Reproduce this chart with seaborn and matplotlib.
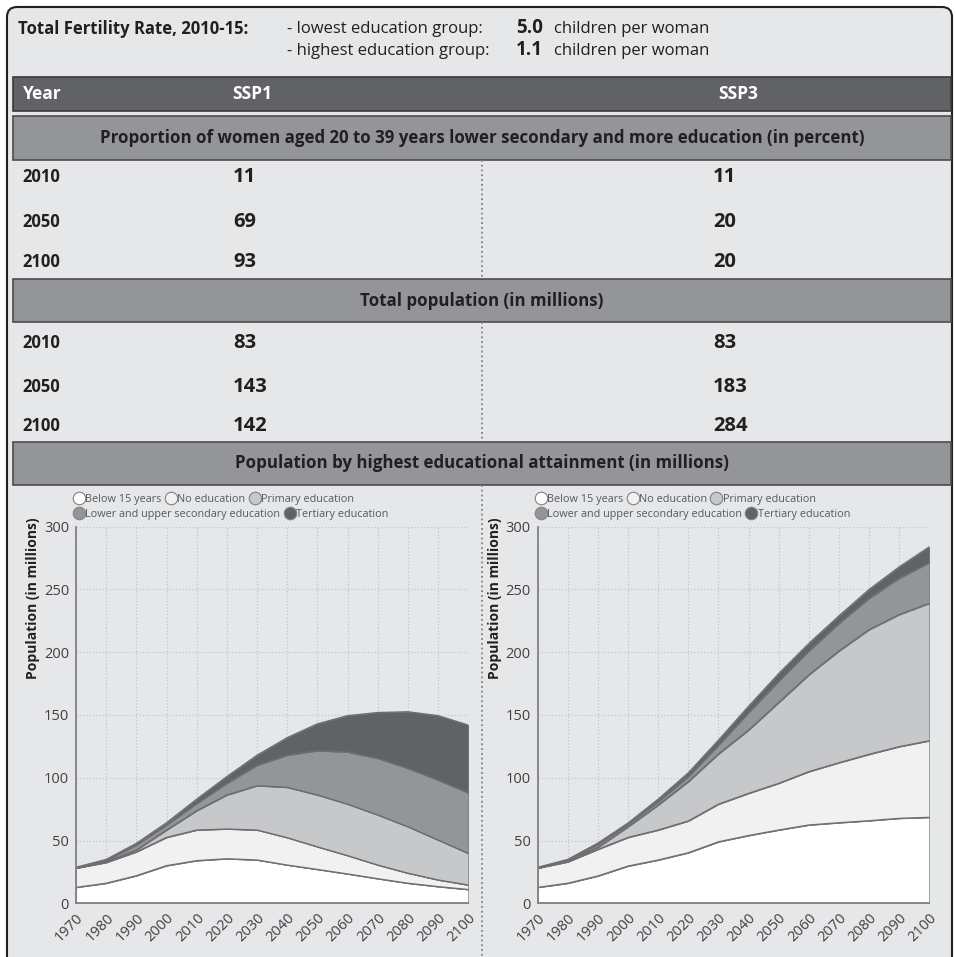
import numpy as np
import pandas as pd
import matplotlib
matplotlib.use("Agg")
import matplotlib.pyplot as plt
from matplotlib.patches import Rectangle, FancyBboxPatch
from matplotlib.lines import Line2D
import seaborn as sns

# ---- data ----
years = [1970, 1980, 1990, 2000, 2010, 2020, 2030, 2040, 2050, 2060, 2070, 2080, 2090, 2100]
categories = ["Below 15 years", "No education", "Primary education",
              "Lower and upper secondary education", "Tertiary education"]

# SSP1, population by education (millions), one list per layer
ssp1_below15 = [12.7, 16.0, 22.0, 30.0, 34.0, 35.5, 34.5, 30.5, 27.0, 23.4, 19.6, 16.0, 13.3, 11.0]
ssp1_no_edu = [15.3, 16.5, 19.0, 22.5, 24.4, 23.7, 23.9, 21.8, 18.0, 14.6, 10.9, 8.0, 5.3, 3.6]
ssp1_primary = [0.1, 0.5, 1.5, 5.9, 15.4, 27.1, 35.3, 40.1, 41.3, 41.0, 39.9, 37.0, 31.8, 25.2]
ssp1_secondary = [0.3, 1.0, 4.0, 4.0, 5.8, 9.3, 16.3, 25.6, 35.3, 41.5, 45.1, 46.5, 47.8, 48.2]
ssp1_tertiary = [0.3, 1.0, 1.3, 1.8, 3.4, 5.4, 8.0, 14.0, 21.4, 29.0, 36.5, 45.1, 51.3, 54.0]

# SSP3
ssp3_below15 = [12.7, 16.0, 21.8, 29.7, 34.5, 40.3, 49.0, 54.0, 58.4, 62.4, 64.2, 65.8, 67.7, 68.5]
ssp3_no_edu = [15.3, 17.0, 21.2, 22.8, 23.9, 25.3, 30.0, 33.6, 37.2, 42.5, 47.8, 52.9, 57.1, 61.0]
ssp3_primary = [0.1, 1.0, 1.6, 8.5, 19.9, 31.4, 40.0, 50.4, 64.4, 77.1, 89.0, 99.3, 105.2, 109.5]
ssp3_secondary = [0.3, 0.5, 2.4, 2.0, 2.7, 4.0, 7.0, 14.0, 17.0, 19.0, 22.0, 25.0, 29.0, 32.5]
ssp3_tertiary = [0.3, 0.5, 1.0, 1.0, 2.0, 3.0, 4.0, 5.0, 6.0, 6.0, 6.0, 7.0, 9.0, 12.5]

table_years = ["2010", "2050", "2100"]
women_ssp1 = [11, 69, 93]
women_ssp3 = [11, 20, 20]
pop_ssp1 = [83, 143, 142]
pop_ssp3 = [83, 183, 284]

tfr_low = "5.0"
tfr_high = "1.1"

colors = ["#ffffff", "#f1f1f2", "#c7c8ca", "#939598", "#616265"]
edge = "#6d6e71"
panel_bg = "#e6e7e8"
ink = "#231f20"

sns.set_theme(style="whitegrid")
plt.rcParams["font.family"] = ["Open Sans", "DejaVu Sans"]

W, H = 956, 957
fig = plt.figure(figsize=(W / 100, H / 100), dpi=100)
fig.patch.set_facecolor("white")

# background axes in pixel units for the table part
bg = fig.add_axes([0, 0, 1, 1])
bg.set_xlim(0, W)
bg.set_ylim(H, 0)
bg.axis("off")

bg.add_patch(FancyBboxPatch((7, 7), 945, 990, boxstyle="round,pad=0,rounding_size=10",
                            fc=panel_bg, ec=ink, lw=1.5))

# header
bg.text(18, 29, "Total Fertility Rate, 2010-15:", fontsize=12, fontweight="bold",
        va="center", color=ink)
bg.text(287, 29, "- lowest education group:", fontsize=12, va="center", color=ink)
bg.text(287, 51, "- highest education group:", fontsize=12, va="center", color=ink)
bg.text(516, 28, tfr_low, fontsize=13.5, fontweight="bold", va="center", color=ink)
bg.text(516, 50, tfr_high, fontsize=13.5, fontweight="bold", va="center", color=ink)
bg.text(554, 29, "children per woman", fontsize=12, va="center", color=ink)
bg.text(554, 51, "children per woman", fontsize=12, va="center", color=ink)

# dark column header bar
bg.add_patch(Rectangle((13, 77), 938, 34, fc="#616265", ec="#3a3a3c", lw=1.2))
bg.text(23, 94, "Year", fontsize=12.5, fontweight="bold", color="white", va="center")
bg.text(252, 94, "SSP1", fontsize=12.5, fontweight="bold", color="white", va="center", ha="center")
bg.text(738, 94, "SSP3", fontsize=12.5, fontweight="bold", color="white", va="center", ha="center")

sections = [
    (116, 44, "Proportion of women aged 20 to 39 years lower secondary and more education (in percent)"),
    (279, 43, "Total population (in millions)"),
    (442, 43, "Population by highest educational attainment (in millions)"),
]
for top, h, label in sections:
    bg.add_patch(Rectangle((13, top), 938, h, fc="#939598", ec="#4d4d4f", lw=1.2))
    bg.text(482, top + h / 2, label, fontsize=12.2, fontweight="bold", ha="center",
            va="center", color=ink)

# baselines of the table rows
row_y1 = [182, 227, 267]
row_y2 = [348, 392, 431]
for rows, v1, v3 in [(row_y1, women_ssp1, women_ssp3), (row_y2, pop_ssp1, pop_ssp3)]:
    for y, yr, a, b in zip(rows, table_years, v1, v3):
        bg.text(22, y, yr, fontsize=12, fontweight="bold", va="baseline", color=ink)
        bg.text(233, y, str(a), fontsize=14.5, fontweight="bold", va="baseline", color=ink)
        bg.text(713, y, str(b), fontsize=14.5, fontweight="bold", va="baseline", color=ink)

for y0, y1 in [(160, 279), (322, 442), (485, 957)]:
    bg.plot([482, 482], [y0, y1], ls=":", color="#808285", lw=1.3)


def stacked_panel(ax, layers):
    df = pd.DataFrame(dict(zip(categories, layers)), index=years)
    tops = df.cumsum(axis=1)
    lower = np.zeros(len(years))
    for cat, col in zip(categories, colors):
        ax.fill_between(years, lower, tops[cat].values, color=col,
                        edgecolor=edge, linewidth=0.6, zorder=2)
        lower = tops[cat].values
    long = tops.reset_index().melt(id_vars="index", var_name="layer", value_name="value")
    sns.lineplot(data=long, x="index", y="value", hue="layer", palette=[edge] * 5,
                 linewidth=0.9, legend=False, ax=ax, zorder=3)

    ax.set_xlim(1970, 2100)
    ax.set_ylim(0, 300)
    ax.set_xticks(years)
    ax.set_yticks(range(0, 301, 50))
    ax.set_facecolor(panel_bg)
    ax.grid(True, ls=":", color="#c4c5c7", lw=0.9)
    for s in ["top", "right"]:
        ax.spines[s].set_visible(False)
    for s in ["left", "bottom"]:
        ax.spines[s].set_color("#808285")
        ax.spines[s].set_linewidth(1.3)
        ax.spines[s].set_zorder(4)
    ax.tick_params(length=0, pad=5, labelsize=10.5, labelcolor="#414042")
    plt.setp(ax.get_xticklabels(), rotation=45, ha="right", rotation_mode="anchor")
    ax.set_xlabel("")
    ax.set_ylabel("Population (in millions)", fontsize=10, fontweight="bold",
                  color=ink, loc="top")
    ax.yaxis.set_label_coords(-0.092, 1.024)

    handles = [Line2D([], [], marker="o", ls="", markersize=9, markerfacecolor=c,
                      markeredgecolor="#808285", markeredgewidth=0.8) for c in colors]
    kw = dict(frameon=False, fontsize=7.8, handletextpad=0.15, columnspacing=0.4,
              borderpad=0, borderaxespad=0, handlelength=0.9, labelcolor="#58595b")
    leg1 = ax.legend(handles[:3], categories[:3], ncol=3, loc="center left",
                     bbox_to_anchor=(-0.005, 1.073), **kw)
    ax.add_artist(leg1)
    ax.legend(handles[3:], categories[3:], ncol=2, loc="center left",
              bbox_to_anchor=(-0.005, 1.033), **kw)


ax1 = fig.add_axes([76 / W, 1 - 903.3 / H, 392.3 / W, 376.6 / H])
stacked_panel(ax1, [ssp1_below15, ssp1_no_edu, ssp1_primary, ssp1_secondary, ssp1_tertiary])
ax2 = fig.add_axes([537.7 / W, 1 - 903.3 / H, 391.6 / W, 376.6 / H])
stacked_panel(ax2, [ssp3_below15, ssp3_no_edu, ssp3_primary, ssp3_secondary, ssp3_tertiary])

fig.savefig("out.png", dpi=100)
